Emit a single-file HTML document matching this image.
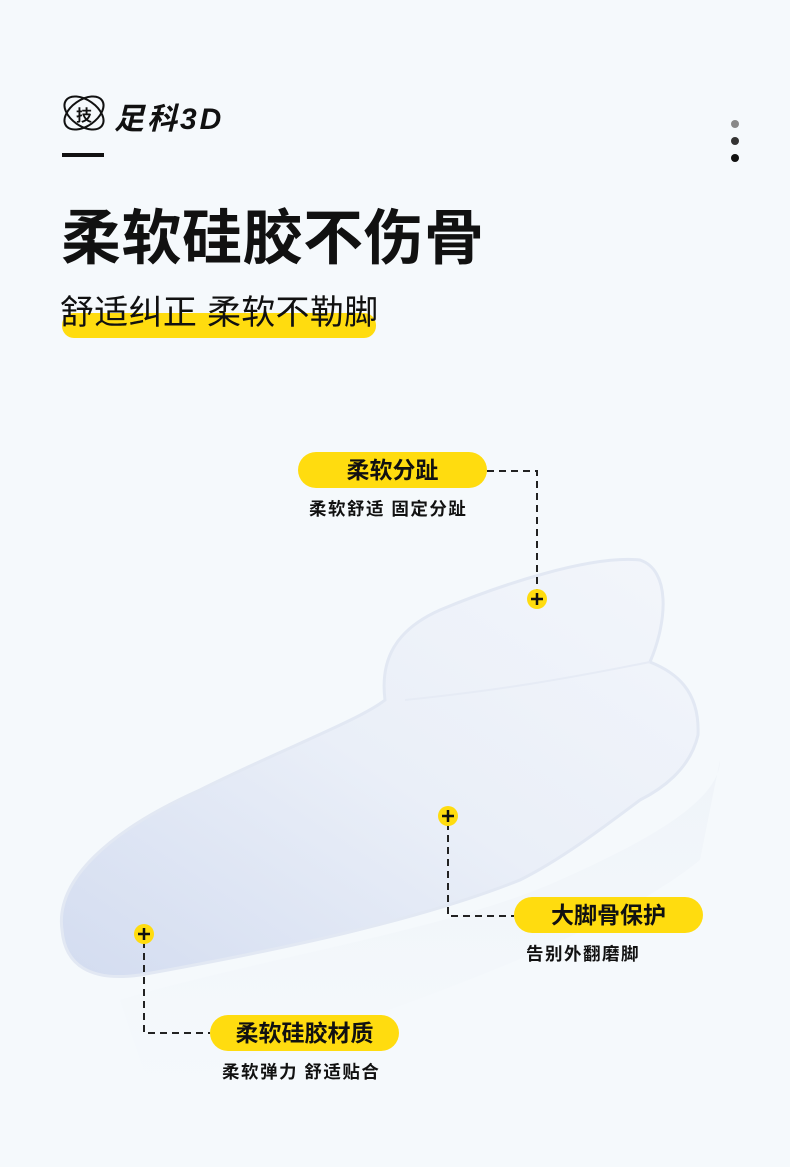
<!DOCTYPE html>
<html><head><meta charset="utf-8"><style>
body{margin:0;width:790px;height:1167px;background:#f5f9fc;position:relative;overflow:hidden;font-family:"Liberation Sans","Noto Sans CJK SC",sans-serif;color:#111}
.a{position:absolute;white-space:nowrap}
.pill{position:absolute;height:36px;border-radius:18px;background:#ffdc0f;font-weight:bold;font-size:23px;line-height:36px;text-align:center;color:#111}
.sub{position:absolute;font-size:17.5px;font-weight:bold;white-space:nowrap;letter-spacing:1.5px}
</style></head><body>
<svg class="a" style="left:0;top:0" width="790" height="1167">
<defs>
<linearGradient id="g" x1="0" y1="1" x2="1" y2="0">
<stop offset="0" stop-color="#d3dcf0"/><stop offset="0.5" stop-color="#eaeff8"/><stop offset="1" stop-color="#f3f6fb"/></linearGradient>
<linearGradient id="s" x1="0" y1="0" x2="0" y2="1"><stop offset="0" stop-color="#e9eef5"/><stop offset="1" stop-color="#f5f9fc"/></linearGradient>
</defs>
<path d="M120 1000 C250 960 450 930 560 880 C650 840 720 800 720 760 L700 860 C600 940 400 1010 150 1090 Z" fill="url(#s)" opacity="0.45"/>
<path d="M62 930 C55 880 110 830 200 790 C280 750 360 720 385 700 C380 660 395 630 440 610 C500 585 590 555 640 560 C670 570 668 620 650 662 C675 672 700 690 698 735 C690 770 660 790 640 800 C600 830 560 860 520 880 C420 920 280 950 140 975 C90 982 65 965 62 930 Z" fill="url(#g)" stroke="#e2e8f3" stroke-width="3"/>
<path d="M405 700 C500 690 560 680 650 662" fill="none" stroke="#e6ebf5" stroke-width="2"/>
<g stroke="#222" stroke-width="2" stroke-dasharray="7,5" fill="none">
<path d="M487 471 H537 V592"/>
<path d="M448 823 V916 H514"/>
<path d="M144 941 V1033 H210"/>
</g>
<g>
<circle cx="537" cy="599" r="10" fill="#ffdc0f"/><path d="M531 599h12M537 593v12" stroke="#111" stroke-width="2.5"/>
<circle cx="448" cy="816" r="10" fill="#ffdc0f"/><path d="M442 816h12M448 810v12" stroke="#111" stroke-width="2.5"/>
<circle cx="144" cy="934" r="10" fill="#ffdc0f"/><path d="M138 934h12M144 928v12" stroke="#111" stroke-width="2.5"/>
</g>
<g fill="none" stroke="#111" stroke-width="2">
<ellipse cx="84" cy="113" rx="22" ry="13" transform="rotate(35 84 113)"/>
<ellipse cx="84" cy="113" rx="22" ry="13" transform="rotate(-35 84 113)"/>
</g>
<rect x="62" y="153" width="42" height="4" fill="#111"/>
<circle cx="735" cy="124" r="4" fill="#888"/><circle cx="735" cy="141" r="4" fill="#333"/><circle cx="735" cy="158" r="4" fill="#111"/>
</svg>
<div class="a" style="left:76px;top:102px;font-size:16px;font-weight:bold">技</div>
<div class="a" style="left:114px;top:94px;font-size:30px;font-weight:bold;font-style:italic;letter-spacing:3px">足科3D</div>
<div class="a" style="left:61px;top:190px;font-size:60px;font-weight:bold;letter-spacing:0.5px">柔软硅胶不伤骨</div>
<div class="a" style="left:62px;top:313px;width:314px;height:25px;border-radius:12px;background:#ffdc0f"></div>
<div class="a" style="left:60px;top:285px;font-size:34px;letter-spacing:0.3px">舒适纠正 柔软不勒脚</div>
<div class="pill" style="left:298px;top:452px;width:189px">柔软分趾</div>
<div class="sub" style="left:309px;top:496px">柔软舒适 固定分趾</div>
<div class="pill" style="left:514px;top:897px;width:189px">大脚骨保护</div>
<div class="sub" style="left:526px;top:941px">告别外翻磨脚</div>
<div class="pill" style="left:210px;top:1015px;width:189px">柔软硅胶材质</div>
<div class="sub" style="left:222px;top:1059px">柔软弹力 舒适贴合</div>
</body></html>
